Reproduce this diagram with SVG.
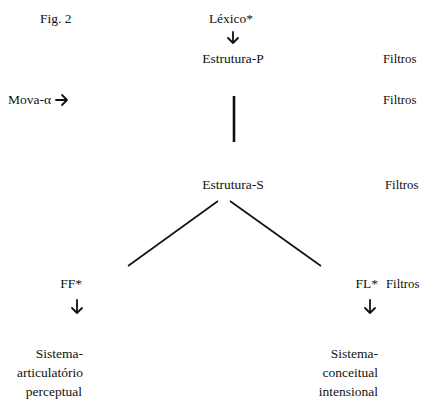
<svg xmlns="http://www.w3.org/2000/svg" width="429" height="411" viewBox="0 0 429 411">
<style>
text{font-family:"Liberation Serif","Times New Roman",serif;font-size:13.5px;fill:#111}
.c{text-anchor:middle}
.r{text-anchor:end}
.f{font-size:12.8px}
.ln{stroke:#111;fill:none;stroke-width:1.6}
.ar{stroke:#111;fill:none;stroke-width:1.8;stroke-linecap:round;stroke-linejoin:round}
</style>
<rect width="429" height="411" fill="#fff"/>
<text x="40" y="23">Fig. 2</text>
<g id="lexico"><text class="c" x="231" y="23">Léxico*</text></g>
<g id="estrutura-p"><text class="c" x="233" y="63">Estrutura-P</text></g>
<g id="mova"><text x="8" y="104">Mova-α</text><path class="ar" d="M56 100H67M62 95L67 100L62 105"/></g>
<g id="estrutura-s"><text class="c" x="233" y="189">Estrutura-S</text></g>
<g id="ff"><text class="r" x="82" y="288">FF*</text></g>
<g id="fl"><text class="r" x="378" y="288">FL*</text></g>
<g id="filtros1"><text class="f" x="383" y="63">Filtros</text></g>
<g id="filtros2"><text class="f" x="383" y="104">Filtros</text></g>
<g id="filtros3"><text class="f" x="385" y="189">Filtros</text></g>
<g id="filtros4"><text class="f" x="386" y="288">Filtros</text></g>
<g id="sistema-ap"><text class="r" x="83" y="358">Sistema-</text><text class="r" x="83" y="377">articulatório</text><text class="r" x="82" y="396">perceptual</text></g>
<g id="sistema-ci"><text class="r" x="378" y="358">Sistema-</text><text class="r" x="378" y="377">conceitual</text><text class="r" x="378" y="396">intensional</text></g>
<g id="connectors">
<path class="ar" d="M233 32V43M228 38L233 43L238 38"/>
<line x1="234" y1="96" x2="234" y2="142" stroke="#111" stroke-width="2.6"/>
<line class="ln" x1="218" y1="201" x2="128" y2="266"/>
<line class="ln" x1="230" y1="201" x2="321" y2="266"/>
<path class="ar" d="M77 300V313M72 308L77 313L82 308"/>
<path class="ar" d="M370 300V313M365 308L370 313L375 308"/>
</g>
</svg>
